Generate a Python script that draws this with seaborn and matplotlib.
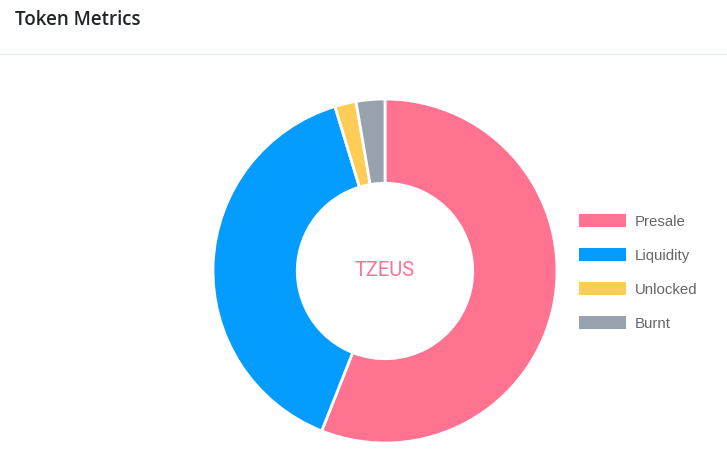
import matplotlib
matplotlib.use("Agg")
import matplotlib.pyplot as plt
import seaborn as sns

# token split (share of supply, %), read from the donut
labels = ["Presale", "Liquidity", "Unlocked", "Burnt"]
shares = [56.0, 39.3, 2.0, 2.7]
colors = ["#FF7290", "#049DFF", "#FFCD56", "#98A2AE"]
title = "Token Metrics"
center_label = "TZEUS"

sns.set_theme(style="white")
sns.set_palette(colors)

W, H = 727, 465
fig = plt.figure(figsize=(W / 100, H / 100), dpi=100)
fig.patch.set_facecolor("white")

# header + separator line
fig.text(15 / W, 1 - 20 / H, title, fontsize=13.5, fontfamily="Open Sans",
         fontweight="semibold", color="#212529", va="center", ha="left")
fig.add_artist(plt.Line2D([0, 1], [1 - 54.5 / H] * 2, color="#e9ecef", lw=1))

# donut axes: centre (385, 271), outer radius 172 px
cx, cy, r = 385, 271, 172
ax = fig.add_axes([(cx - r) / W, 1 - (cy + r) / H, 2 * r / W, 2 * r / H])
wedges, _ = ax.pie(shares, colors=sns.color_palette(), startangle=90, counterclock=False,
                   radius=1, wedgeprops=dict(width=0.49, edgecolor="white", linewidth=2))
ax.set_xlim(-1, 1)
ax.set_ylim(-1, 1)
ax.set_aspect("equal")
ax.axis("off")
ax.text(0, 0, center_label, ha="center", va="center", fontsize=14.5,
        fontfamily="Roboto", color=colors[0])

leg = fig.legend(wedges, labels, loc="upper left",
                 bbox_to_anchor=(573 / W, 1 - 208 / H), frameon=False,
                 prop={"family": "Liberation Sans", "size": 10.8},
                 handlelength=3.1, handleheight=1.0, handletextpad=0.6,
                 labelspacing=1.27, borderaxespad=0)
for t in leg.get_texts():
    t.set_color("#666666")
for h in leg.legend_handles:
    h.set_edgecolor("none")
    h.set_linewidth(0)

fig.savefig("out.png", dpi=100, facecolor="white")
